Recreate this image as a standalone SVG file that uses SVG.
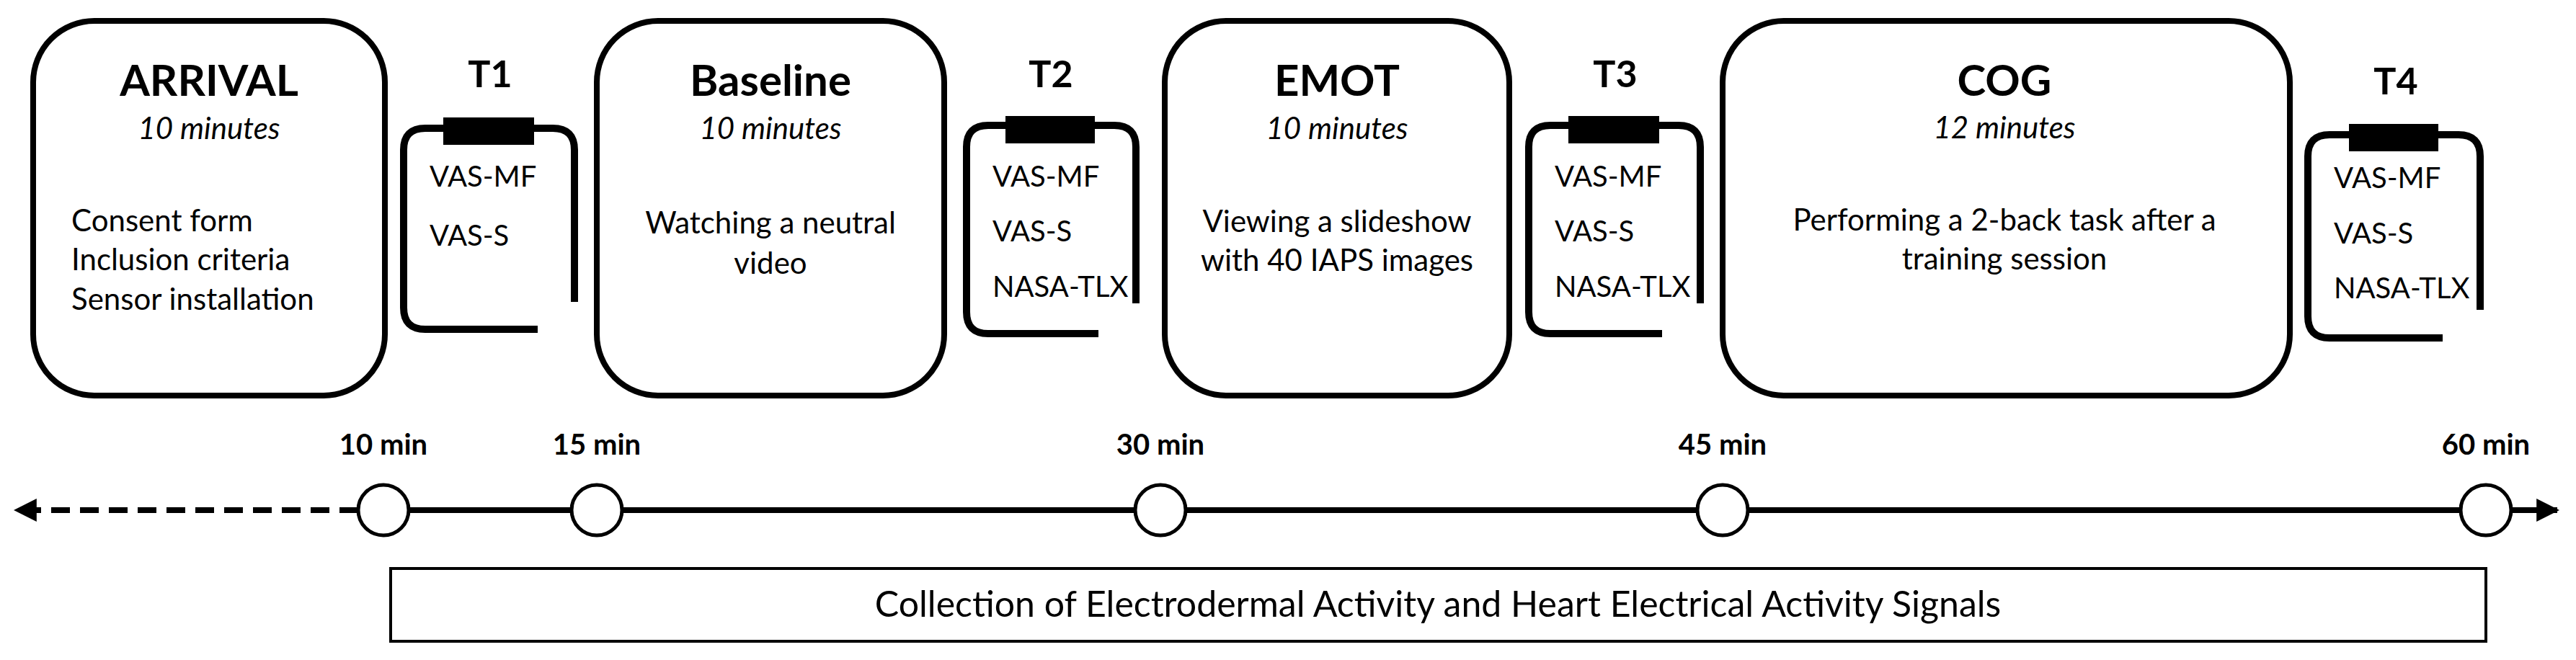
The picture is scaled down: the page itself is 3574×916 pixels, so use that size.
<svg xmlns="http://www.w3.org/2000/svg" width="3574" height="916" viewBox="0 0 3574 916">
<style>
text{font-family:Lato,"Open Sans","Liberation Sans",sans-serif;fill:#000}
.box{fill:#fff;stroke:#000;stroke-width:8}
.title{font-size:60px;font-weight:bold;text-anchor:middle}
.dur{font-size:42px;font-style:italic;text-anchor:middle}
.body{font-size:42px}
.mid{text-anchor:middle}
.tl{font-size:52px;font-weight:bold;text-anchor:middle}
.clip{fill:none;stroke:#000;stroke-width:10}
.q{font-size:40px}
.min{font-size:40px;font-weight:bold;text-anchor:middle}
.pt{fill:#fff;stroke:#000;stroke-width:5}
</style>
<defs>
<marker id="ah" viewBox="0 0 10 10" refX="9" refY="5" markerWidth="4" markerHeight="4" orient="auto-start-reverse"><path d="M0,0 L10,5 L0,10 z" fill="#000"/></marker>
</defs>
<g id="arrival"><rect class="box" x="46" y="29" width="488" height="520" rx="85"/>
<text class="title" x="290" y="133">ARRIVAL</text><text class="dur" x="290" y="193">10 minutes</text>
<text class="body" x="99" y="321">Consent form</text><text class="body" x="99" y="375">Inclusion criteria</text><text class="body" x="99" y="430">Sensor installation</text></g>
<g id="t1"><text class="tl" x="680" y="121">T1</text>
<path class="clip" d="M746,457 H590 Q560,457 560,427 V208 Q560,178 590,178 H767 Q797,178 797,208 V419"/>
<rect x="615" y="163" width="126" height="38"/>
<text class="q" x="596" y="259">VAS-MF</text><text class="q" x="596" y="341">VAS-S</text></g>
<g id="baseline"><rect class="box" x="828" y="29" width="482" height="520" rx="85"/>
<text class="title" x="1069" y="133">Baseline</text><text class="dur" x="1069" y="193">10 minutes</text>
<text class="body mid" x="1069" y="324">Watching a neutral</text><text class="body mid" x="1069" y="380">video</text></g>
<g id="t2"><text class="tl" x="1458" y="121">T2</text>
<path class="clip" d="M1524,463 H1371 Q1341,463 1341,433 V204 Q1341,174 1371,174 H1546 Q1576,174 1576,204 V421"/>
<rect x="1395" y="161" width="124" height="38"/>
<text class="q" x="1377" y="259">VAS-MF</text><text class="q" x="1377" y="335">VAS-S</text><text class="q" x="1377" y="412">NASA-TLX</text></g>
<g id="emot"><rect class="box" x="1616" y="29" width="478" height="520" rx="85"/>
<text class="title" x="1855" y="133">EMOT</text><text class="dur" x="1855" y="193">10 minutes</text>
<text class="body mid" x="1855" y="322">Viewing a slideshow</text><text class="body mid" x="1855" y="376">with 40 IAPS images</text></g>
<g id="t3"><text class="tl" x="2241" y="121">T3</text>
<path class="clip" d="M2306,463 H2151 Q2121,463 2121,433 V204 Q2121,174 2151,174 H2329 Q2359,174 2359,204 V421"/>
<rect x="2176" y="161" width="126" height="38"/>
<text class="q" x="2157" y="259">VAS-MF</text><text class="q" x="2157" y="335">VAS-S</text><text class="q" x="2157" y="412">NASA-TLX</text></g>
<g id="cog"><rect class="box" x="2390" y="29" width="787" height="520" rx="85"/>
<text class="title" x="2781" y="133">COG</text><text class="dur" x="2781" y="192">12 minutes</text>
<text class="body mid" x="2781" y="320">Performing a 2-back task after a</text><text class="body mid" x="2781" y="374">training session</text></g>
<g id="t4"><text class="tl" x="3324" y="131">T4</text>
<path class="clip" d="M3389,469 H3232 Q3202,469 3202,439 V217 Q3202,187 3232,187 H3411 Q3441,187 3441,217 V430"/>
<rect x="3259" y="172" width="124" height="38"/>
<text class="q" x="3238" y="261">VAS-MF</text><text class="q" x="3238" y="338">VAS-S</text><text class="q" x="3238" y="414">NASA-TLX</text></g>
<g id="connectors">
<line x1="497" y1="708" x2="22" y2="708" stroke="#000" stroke-width="8" stroke-dasharray="26,14" marker-end="url(#ah)"/>
<line x1="532" y1="708" x2="3548" y2="708" stroke="#000" stroke-width="8" marker-end="url(#ah)"/>
</g>
<g id="timepoints">
<circle class="pt" cx="532" cy="708" r="35"/><text class="min" x="532" y="631">10 min</text>
<circle class="pt" cx="828" cy="708" r="35"/><text class="min" x="828" y="631">15 min</text>
<circle class="pt" cx="1610" cy="708" r="35"/><text class="min" x="1610" y="631">30 min</text>
<circle class="pt" cx="2390" cy="708" r="35"/><text class="min" x="2390" y="631">45 min</text>
<circle class="pt" cx="3449" cy="708" r="35"/><text class="min" x="3449" y="631">60 min</text>
</g>
<g id="signals"><rect x="542" y="789" width="2907" height="101" fill="#fff" stroke="#000" stroke-width="4"/>
<text x="1995" y="856" font-size="50" text-anchor="middle">Collection of Electrodermal Activity and Heart Electrical Activity Signals</text></g>
</svg>
